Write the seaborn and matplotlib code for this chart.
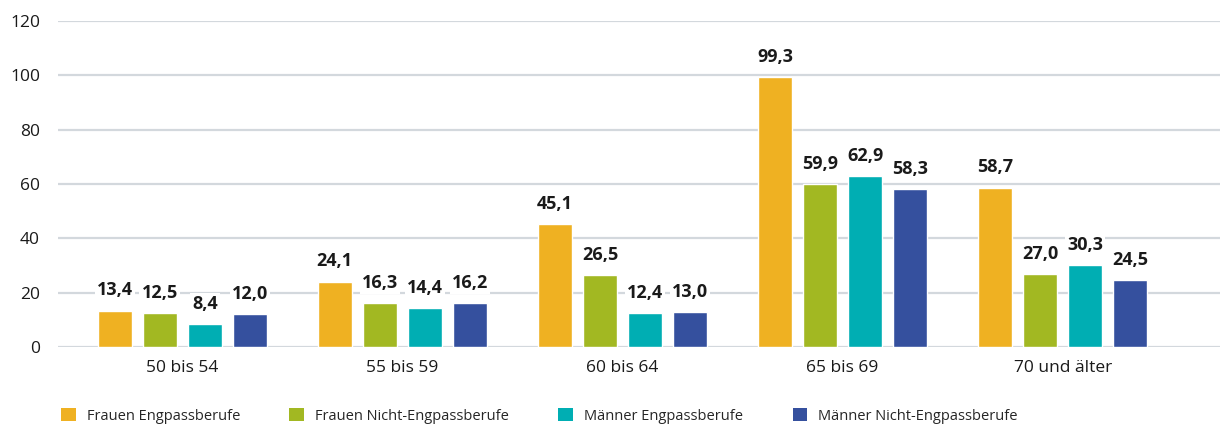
import matplotlib
matplotlib.use("Agg")
import matplotlib.pyplot as plt
from matplotlib.patches import Patch
import seaborn as sns
import pandas as pd

categories = ["50 bis 54", "55 bis 59", "60 bis 64", "65 bis 69", "70 und älter"]
series_names = ["Frauen Engpassberufe", "Frauen Nicht-Engpassberufe",
                "Männer Engpassberufe", "Männer Nicht-Engpassberufe"]
frauen_eng = [13.4, 24.1, 45.1, 99.3, 58.7]
frauen_nicht = [12.5, 16.3, 26.5, 59.9, 27.0]
maenner_eng = [8.4, 14.4, 12.4, 62.9, 30.3]
maenner_nicht = [12.0, 16.2, 13.0, 58.3, 24.5]
y_ticks = [0, 20, 40, 60, 80, 100, 120]

colors = ["#EFB122", "#A2B822", "#00AEB3", "#35509E"]

rows = []
for name, vals in zip(series_names, [frauen_eng, frauen_nicht, maenner_eng, maenner_nicht]):
    for c, v in zip(categories, vals):
        rows.append({"Alter": c, "Gruppe": name, "Wert": v})
df = pd.DataFrame(rows)

sns.set_theme(style="white")
plt.rcParams["font.family"] = ["Open Sans", "DejaVu Sans"]

fig = plt.figure(figsize=(12.2, 4.25), dpi=100)
ax = fig.add_axes([58 / 1220, (425 - 347) / 425, 1 - 58 / 1220, (347 - 21) / 425])

sns.barplot(data=df, x="Alter", y="Wert", hue="Gruppe", order=categories,
            hue_order=series_names, palette=colors, width=0.82, gap=0.24,
            saturation=1, legend=False, ax=ax, zorder=3)

ax.set_ylim(0, 120)
ax.set_xlim(-0.565, 4.715)
ax.set_yticks(y_ticks)
ax.set_yticklabels([str(t) for t in y_ticks])
ax.yaxis.grid(True, color="#D3D8DD", linewidth=1.6, zorder=0)
ax.set_axisbelow(True)
for s in ax.spines.values():
    s.set_visible(False)
ax.set_xlabel("")
ax.set_ylabel("")
ax.tick_params(axis="y", length=0, pad=13, labelsize=12.5, labelcolor="#1a1a1a")
ax.tick_params(axis="x", length=0, pad=9, labelsize=12.5, labelcolor="#1a1a1a")

for cont, vals in zip(ax.containers, [frauen_eng, frauen_nicht, maenner_eng, maenner_nicht]):
    labels = [f"{v:.1f}".replace(".", ",") for v in vals]
    ax.bar_label(cont, labels=labels, padding=8, fontsize=13, fontweight="bold",
                 color="#1a1a1a", zorder=4,
                 bbox=dict(facecolor="white", edgecolor="none", pad=1.5))

handles = [Patch(facecolor=c, edgecolor="none") for c in colors]
fig.legend(handles, series_names, loc="center left", bbox_to_anchor=(61 / 1220, 1 - 416 / 425),
           ncol=4, frameon=False, fontsize=10.5, handlelength=1.0, handleheight=1.0,
           handletextpad=0.75, columnspacing=3.4, borderaxespad=0, borderpad=0)

fig.savefig("out.png", dpi=100)
